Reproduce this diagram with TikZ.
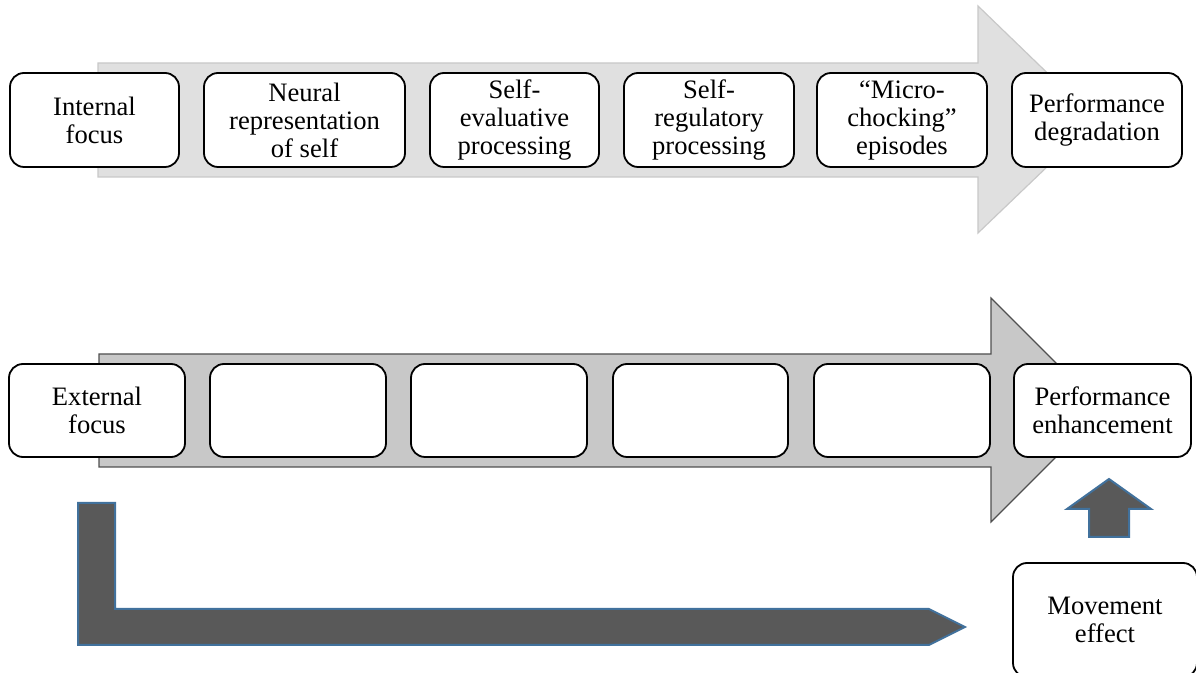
\documentclass[tikz,border=0pt]{standalone}
\usepackage{fontspec}
\setmainfont{Liberation Serif}

\definecolor{lightgrey}{RGB}{224,224,224}
\definecolor{edgegrey}{RGB}{200,200,200}
\definecolor{midgrey}{RGB}{200,200,200}
\definecolor{darkedge}{RGB}{80,80,80}
\definecolor{darkgrey}{RGB}{89,89,89}
\definecolor{steelblue}{RGB}{65,113,156}

\begin{document}
\begin{tikzpicture}[x=0.5pt,y=-0.5pt,
        box/.style={draw, line width=0.9pt, rounded corners=7pt, fill=white, align=center,
                    inner sep=1pt, minimum height=47pt, font=\fontsize{13.3}{14}\selectfont},
        blockarrow/.style={fill=darkgrey, draw=steelblue, line width=1pt}]
        \useasboundingbox (0,0) rectangle (1196,673);
        \clip (0,0) rectangle (1196,673);

        % internal focus path
        \draw[draw=edgegrey, fill=lightgrey, line width=0.6pt] (98,63) -- (978,63) -- (978,6) -- (1096,120) -- (978,233) -- (978,177) -- (98,177) -- cycle;
        \node[box, minimum width=84.5pt] (internal) at (94.5,120) {Internal\\focus};
        \node[box, minimum width=100.5pt] (neural) at (304.5,120) {Neural\\representation\\of self};
        \node[box, minimum width=84.5pt] (selfeval) at (514.5,120) {Self-\\evaluative\\processing};
        \node[box, minimum width=85pt] (selfreg) at (709,120) {Self-\\regulatory\\processing};
        \node[box, minimum width=85pt] (micro) at (902,120) {``Micro-\\chocking''\\episodes};
        \node[box, minimum width=85pt] (degrad) at (1097,120) {Performance\\degradation};

        % external focus path
        \draw[draw=darkedge, fill=midgrey, line width=0.6pt] (99,354) -- (991,354) -- (991,298) -- (1103,410) -- (991,522) -- (991,467) -- (99,467) -- cycle;
        \node[box, minimum width=88pt, minimum height=46.5pt] (external) at (97,410.5) {External\\focus};
        \node[box, minimum width=88pt, minimum height=46.5pt] (blankA) at (298,410.5) {};
        \node[box, minimum width=88pt, minimum height=46.5pt] (blankB) at (499,410.5) {};
        \node[box, minimum width=87.5pt, minimum height=46.5pt] (blankC) at (700.5,410.5) {};
        \node[box, minimum width=88pt, minimum height=46.5pt] (blankD) at (902,410.5) {};
        \node[box, minimum width=88.5pt, minimum height=46.5pt] (enhance) at (1102.5,410.5) {Performance\\enhancement};

        % movement effect
        \node[box, minimum width=92pt, minimum height=57pt] (movement) at (1105,620) {Movement\\effect};
        \draw[blockarrow] (78,503) -- (115,503) -- (115,609) -- (929,609) -- (965,627) -- (929,645) -- (78,645) -- cycle;
        \draw[blockarrow] (1089,537) -- (1089,509) -- (1067,509) -- (1109,479) -- (1151,509) -- (1129,509) -- (1129,537) -- cycle;

    \end{tikzpicture}
\end{document}
